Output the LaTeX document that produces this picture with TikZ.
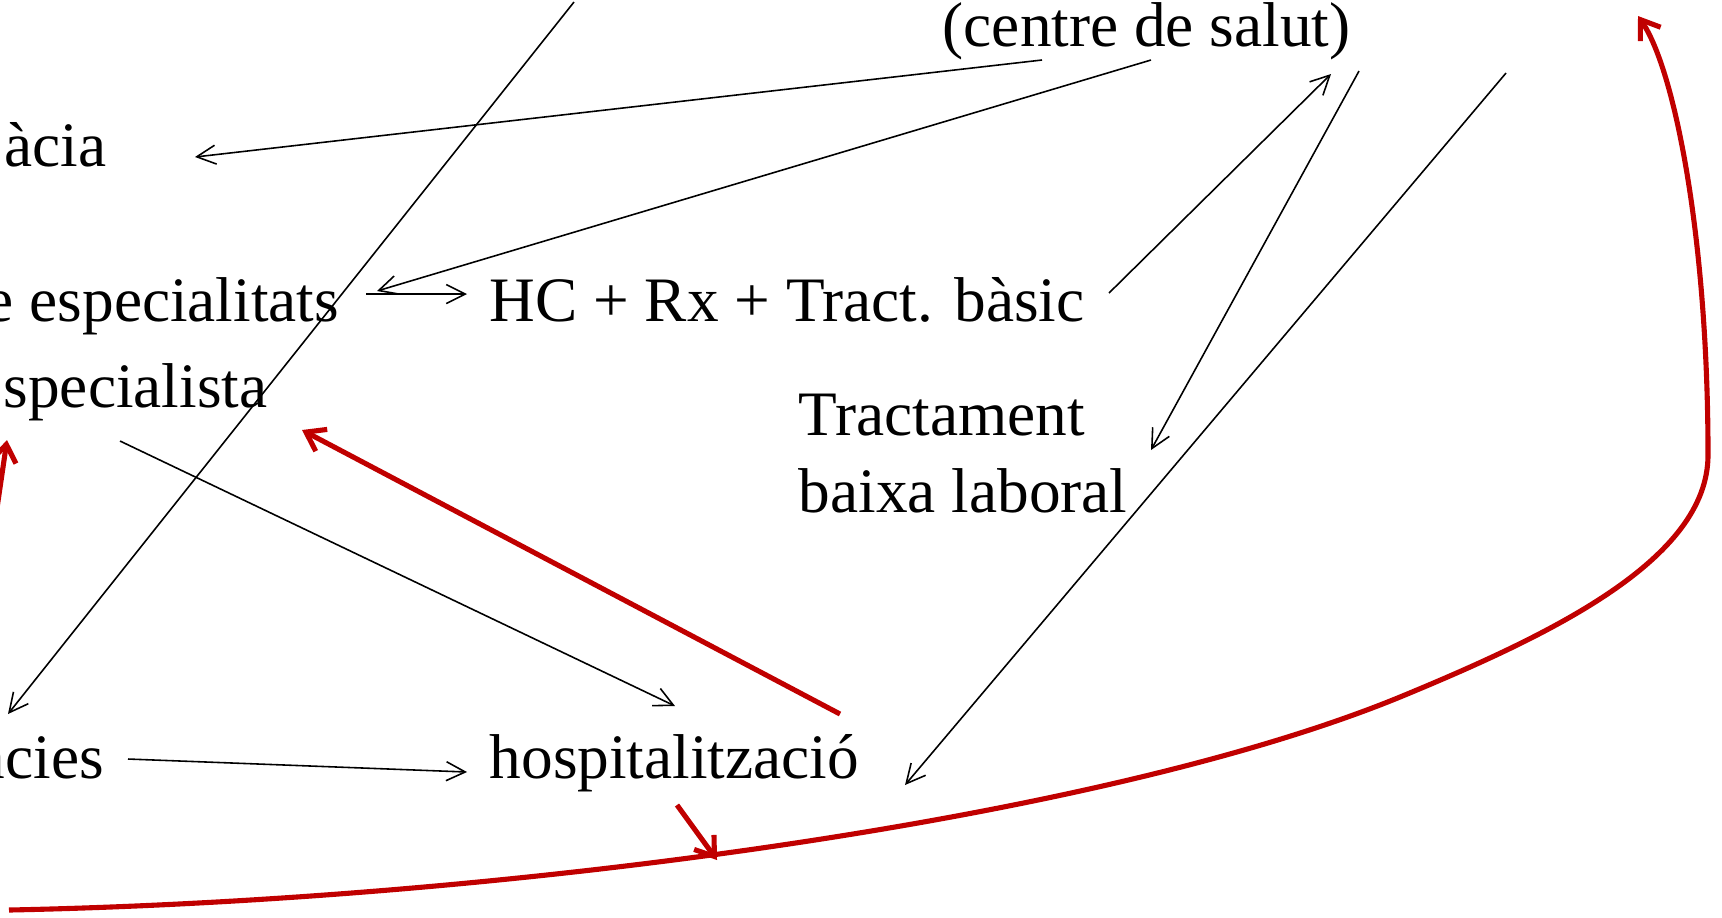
\documentclass[tikz,border=0pt]{standalone}
\usepackage{fontspec}
\setmainfont{Liberation Serif}
\usetikzlibrary{arrows.meta}
\definecolor{accent}{RGB}{192,0,0}
\begin{document}
\begin{tikzpicture}[x=0.01cm, y=-0.01cm,
  lbl/.style={anchor=base west, inner sep=0pt, font=\fontsize{18}{21.6}\selectfont},
  flow/.style={line width=0.45pt, -{Straight Barb[length=5.4pt, width=5.4pt, line width=0.45pt]}},
  back/.style={draw=accent, line width=1.45pt, -{Straight Barb[length=5pt, width=7pt, line width=1.45pt]}}]
\useasboundingbox (0,0) rectangle (1722,917);
\clip (0,0) rectangle (1722,917);

% labels
\node[lbl] (centre) at (942,46) {(centre de salut)};
\node[lbl] (farm)   at (4,166) {àcia};
\node[lbl] (espec)  at (-15,321) {e especialitats};
\node[lbl] (hc)     at (489,321) {HC + Rx + Tract. bàsic};
\node[lbl] (spec)   at (3,407) {specialista};
\node[lbl] (trac)   at (798,435) {Tractament};
\node[lbl] (baixa)  at (798,512) {baixa laboral};
\node[lbl] (urg)    at (-27,778) {ncies};
\node[lbl] (hosp)   at (489,778) {hospitalització};

% connector ends
\coordinate (p1a) at (574,2);    \coordinate (p1b) at (8,714);
\coordinate (p2a) at (1042,60);  \coordinate (p2b) at (195,157);
\coordinate (p3a) at (1151,60);  \coordinate (p3b) at (377,291);
\coordinate (p4a) at (366,294);  \coordinate (p4b) at (467,294);
\coordinate (p5a) at (1109,293); \coordinate (p5b) at (1331,74);
\coordinate (p6a) at (1359,71);  \coordinate (p6b) at (1151,450);
\coordinate (p7a) at (1506,73);  \coordinate (p7b) at (905,785);
\coordinate (p8a) at (120,441);  \coordinate (p8b) at (675,706);
\coordinate (p9a) at (128,759);  \coordinate (p9b) at (467,772);

% black connectors
\draw[flow] (p1a) -- (p1b);
\draw[flow] (p2a) -- (p2b);
\draw[flow] (p3a) -- (p3b);
\draw[flow] (p4a) -- (p4b);
\draw[flow] (p5a) -- (p5b);
\draw[flow] (p6a) -- (p6b);
\draw[flow] (p7a) -- (p7b);
\draw[flow] (p8a) -- (p8b);
\draw[flow] (p9a) -- (p9b);

% red connectors
\coordinate (r1a) at (840,714); \coordinate (r1b) at (302,430);
\coordinate (r2a) at (677,805); \coordinate (r2b) at (717,860);
\coordinate (r3a) at (-4,515);  \coordinate (r3b) at (7,440);
\draw[back] (r1a) -- (r1b);
\draw[back] (r2a) -- (r2b);
\draw[back] (r3a) -- (r3b);

% return loop
\coordinate (loopa) at (9,910);
\coordinate (loopm) at (1400,697);
\coordinate (loopc) at (1708,455);
\coordinate (loopb) at (1638,16);
\draw[back] (loopa) .. controls (500,900) and (1100,820) .. (loopm)
  .. controls (1550,635) and (1708,560) .. (loopc)
  .. controls (1708,240) and (1675,70) .. (loopb);
\end{tikzpicture}
\end{document}
